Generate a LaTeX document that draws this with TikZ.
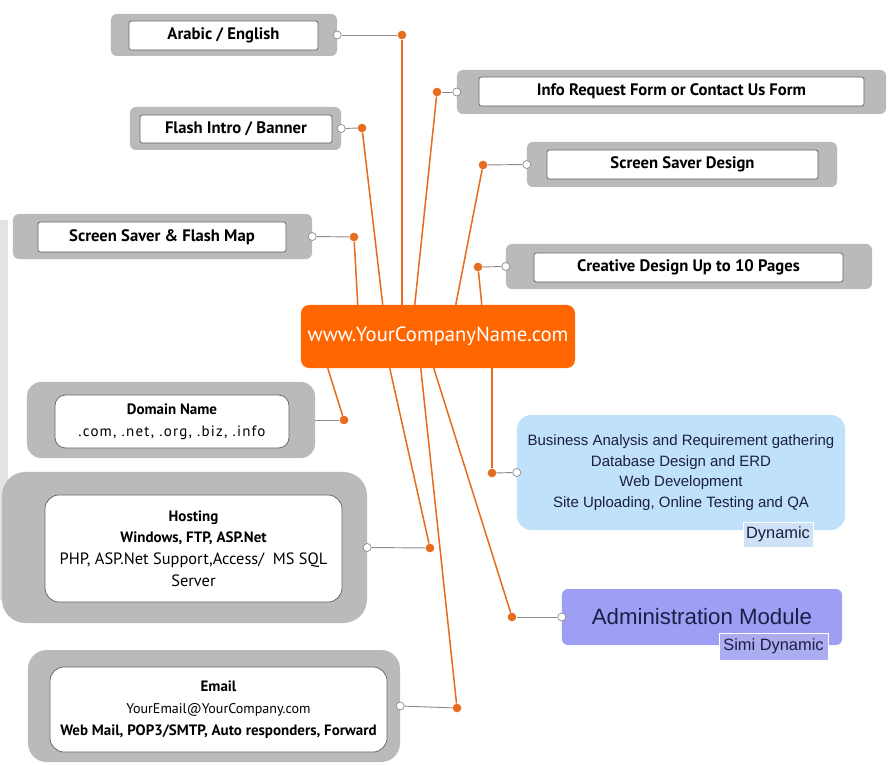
\documentclass[tikz,border=0pt]{standalone}
\usepackage{fontspec}
\setmainfont{PT Sans}
\newfontfamily\arialfont{Liberation Sans}
\newfontfamily\widefont[LetterSpace=8]{PT Sans}
\usetikzlibrary{calc}
\definecolor{boxgray}{RGB}{186,186,186}
\definecolor{edgegray}{RGB}{95,95,95}
\definecolor{stubgray}{RGB}{140,140,140}
\definecolor{stripgray}{RGB}{228,228,228}
\definecolor{linkorange}{RGB}{232,108,30}
\definecolor{webfill}{RGB}{255,102,0}
\definecolor{dynblue}{RGB}{192,225,250}
\definecolor{dyntag}{RGB}{206,226,246}
\definecolor{admfill}{RGB}{158,158,245}
\definecolor{admtag}{RGB}{172,172,240}
\definecolor{navy}{RGB}{28,30,68}
\begin{document}
\begin{tikzpicture}[x=0.03cm,y=-0.03cm,
  outer/.style={fill=boxgray,rounded corners=5pt,inner sep=0pt},
  inner/.style={draw=edgegray,fill=white,line width=0.6pt,rounded corners=2pt,inner sep=0pt,align=center,font=\bfseries\fontsize{14.2}{16}\selectfont},
  multi/.style={inner,rounded corners=9pt,font=\fontsize{12.8}{18.5}\selectfont},
  port/.style={circle,draw=stubgray,fill=white,line width=0.6pt,minimum size=0.24cm,inner sep=0pt},
  dot/.style={circle,fill=linkorange,minimum size=0.26cm,inner sep=0pt},
  stub/.style={draw=stubgray,line width=0.8pt},
  link/.style={draw=linkorange,line width=1.3pt},
  tag/.style={inner sep=0pt,draw=white,line width=0.4pt,text=navy,font=\arialfont\fontsize{14}{16}\selectfont}]
\useasboundingbox (0,0) rectangle (889,765);
\fill[stripgray] (0,220) rectangle (8,600);

\node[fill=webfill,rounded corners=7pt,minimum width=8.22cm,minimum height=1.89cm,text=white,font=\fontsize{17.6}{20}\selectfont] (web) at (438,336.5) {www.YourCompanyName.com};

\node[outer,minimum width=6.78cm,minimum height=1.26cm] (arO) at (224,35) {};
\node[inner,minimum width=5.67cm,minimum height=0.87cm] (ar) at (223.5,35.5) {Arabic / English};
\node[outer,minimum width=6.33cm,minimum height=1.29cm] (flO) at (235.5,128.5) {};
\node[inner,minimum width=5.76cm,minimum height=0.84cm] (fl) at (236,129) {Flash Intro / Banner};
\node[outer,minimum width=8.97cm,minimum height=1.35cm] (smO) at (162.5,236.5) {};
\node[inner,minimum width=7.44cm,minimum height=0.9cm] (sm) at (162,237) {Screen Saver \& Flash Map};
\node[outer,minimum width=12.87cm,minimum height=1.32cm] (inO) at (671.5,92) {};
\node[inner,minimum width=11.55cm,minimum height=0.87cm] (in) at (671.5,91.5) {Info Request Form or Contact Us Form};
\node[outer,minimum width=9.3cm,minimum height=1.35cm] (sdO) at (682,164.5) {};
\node[inner,minimum width=8.13cm,minimum height=0.87cm] (sd) at (682.5,164.5) {Screen Saver Design};
\node[outer,minimum width=10.98cm,minimum height=1.35cm] (crO) at (689,266.5) {};
\node[inner,minimum width=9.27cm,minimum height=0.87cm] (cr) at (688.5,267.5) {Creative Design Up to 10 Pages};

\node[outer,rounded corners=12pt,minimum width=8.64cm,minimum height=2.28cm] (dnO) at (171,420) {};
\node[multi,minimum width=7.02cm,minimum height=1.59cm] (dn) at (172,421.5) {\textbf{Domain Name}\\{\widefont .com, .net, .org, .biz, .info}};
\node[outer,rounded corners=20pt,minimum width=10.95cm,minimum height=4.53cm] (hoO) at (184.5,547.5) {};
\node[multi,rounded corners=12pt,minimum width=8.91cm,minimum height=3.21cm] (ho) at (193.5,548.5) {\textbf{Hosting}\\\textbf{Windows, FTP, ASP.Net}\\{\fontsize{14}{18.5}\selectfont PHP, ASP.Net Support,Access/\ \ MS SQL}\\{\fontsize{14}{18.5}\selectfont Server}};
\node[outer,rounded corners=16pt,minimum width=11.16cm,minimum height=3.36cm] (emO) at (214,706) {};
\node[multi,rounded corners=12pt,minimum width=10.11cm,minimum height=2.55cm] (em) at (218.5,709.5) {\textbf{Email}\\{\fontsize{12}{18.5}\selectfont YourEmail@YourCompany.com}\\\textbf{Web Mail, POP3/SMTP, Auto responders, Forward}};

\node[fill=dynblue,rounded corners=12pt,minimum width=9.84cm,minimum height=3.45cm,align=center,text=navy,font=\arialfont\fontsize{12.8}{17.5}\selectfont] (dy) at (681,472.5) {Business Analysis and Requirement gathering\\Database Design and ERD\\Web Development\\Site Uploading, Online Testing and QA};
\node[tag,fill=dyntag,minimum width=2.1cm,minimum height=0.75cm] (dyT) at (778,534.5) {Dynamic};
\node[fill=admfill,rounded corners=5pt,minimum width=8.4cm,minimum height=1.68cm,text=navy,font=\arialfont\fontsize{19}{21}\selectfont] (ad) at (702,617) {Administration Module};
\node[tag,fill=admtag,minimum width=3.27cm,minimum height=0.81cm] (adT) at (773.5,646.5) {Simi Dynamic};

\node[port] (arP) at (arO.east) {};
\node[port] (flP) at (flO.east) {};
\node[port] (smP) at (smO.east) {};
\node[port] (inP) at (inO.west) {};
\node[port] (sdP) at (sdO.west) {};
\node[port] (crP) at (crO.west) {};
\node[port] (hoP) at (hoO.east) {};
\node[port] (emP) at (emO.east) {};
\node[port] (dyP) at (dy.west) {};
\node[port] (adP) at (ad.west) {};

\node[dot] (arD) at (402,35) {};
\node[dot] (flD) at (362,128) {};
\node[dot] (smD) at (354,237) {};
\node[dot] (inD) at (437,92) {};
\node[dot] (sdD) at (483,165) {};
\node[dot] (crD) at (478,267) {};
\node[dot] (dnD) at (344,420) {};
\node[dot] (hoD) at (430,548) {};
\node[dot] (emD) at (457,708) {};
\node[dot] (dyD) at (492,473) {};
\node[dot] (adD) at (512,617) {};

\draw[stub] (arP) -- (arD);
\draw[stub] (flP) -- (flD);
\draw[stub] (smP) -- (smD);
\draw[stub] (inP) -- (inD);
\draw[stub] (sdP) -- (sdD);
\draw[stub] (crP) -- (crD);
\draw[stub] (dnO.east) -- (dnD);
\draw[stub] (hoP) -- (hoD);
\draw[stub] (emP) -- (emD);
\draw[stub] (dyP) -- (dyD);
\draw[stub] (adP) -- (adD);

\draw[link] (arD) -- (arD |- web.north);
\draw[link] (flD) -- ($(web.north west)+(82,0)$);
\draw[link] (smD) -- ($(web.north west)+(57,0)$);
\draw[link] (inD) -- ($(web.north west)+(114,0)$);
\draw[link] (sdD) -- ($(web.north west)+(155,0)$);
\draw[link] (crD) -- ($(web.north west)+(181,0)$);
\draw[link] (dnD) -- ($(web.south west)+(27,0)$);
\draw[link] (hoD) -- ($(web.south west)+(89,0)$);
\draw[link] (emD) -- ($(web.south west)+(120,0)$);
\draw[link] (adD) -- ($(web.south west)+(133,0)$);
\draw[link] (dyD) -- (dyD |- web.south);
\end{tikzpicture}
\end{document}
